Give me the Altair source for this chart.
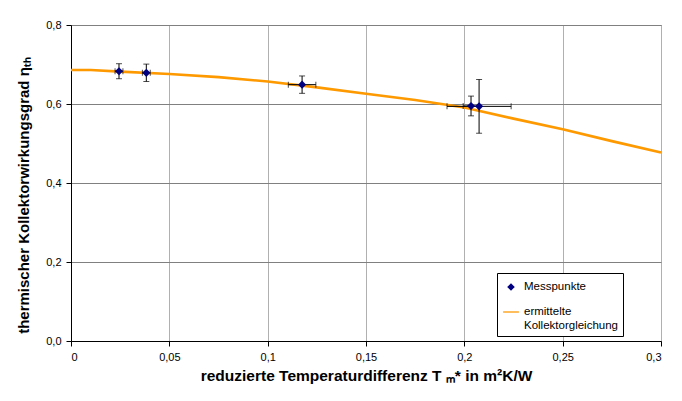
import altair as alt
import pandas as pd

series_names = ["Messpunkte", "ermittelte Kollektorgleichung"]
series_colors = ["#000080", "#FF9900"]

mess_x = [0.0244, 0.0383, 0.1175, 0.2034, 0.2075]
mess_y = [0.683, 0.679, 0.649, 0.595, 0.594]
mess_xerr = [0.002, 0.002, 0.007, 0.004, 0.0163]
mess_yerr = [0.019, 0.022, 0.022, 0.025, 0.068]

curve_x = [0, 0.01, 0.025, 0.05, 0.075, 0.1, 0.125, 0.15, 0.175, 0.2, 0.225, 0.25, 0.275, 0.3]
curve_y = [0.686, 0.686, 0.682, 0.676, 0.668, 0.657, 0.642, 0.626, 0.610, 0.591, 0.563, 0.536, 0.506, 0.477]

x_ticks = [0, 0.05, 0.1, 0.15, 0.2, 0.25, 0.3]
y_ticks = [0, 0.2, 0.4, 0.6, 0.8]

x_title = "reduzierte Temperaturdifferenz T \u2098* in m\u00b2K/W"
y_title = "thermischer Kollektorwirkungsgrad \u03b7\u209c\u2095"

FONT = "Liberation Sans"

pts = pd.DataFrame({
    "x": mess_x,
    "y": mess_y,
    "xlo": [a - b for a, b in zip(mess_x, mess_xerr)],
    "xhi": [a + b for a, b in zip(mess_x, mess_xerr)],
    "ylo": [a - b for a, b in zip(mess_y, mess_yerr)],
    "yhi": [a + b for a, b in zip(mess_y, mess_yerr)],
    "series": [series_names[0]] * len(mess_x),
})
ycaps = pd.DataFrame({
    "x": mess_x + mess_x,
    "y": list(pts["ylo"]) + list(pts["yhi"]),
})
xcaps = pd.DataFrame({
    "x": list(pts["xlo"]) + list(pts["xhi"]),
    "y": mess_y + mess_y,
})
curve = pd.DataFrame({"x": curve_x, "y": curve_y})

xscale = alt.Scale(domain=[0, 0.3], nice=False, zero=False)
yscale = alt.Scale(domain=[0, 0.8], nice=False, zero=False)

x_axis = alt.Axis(
    values=x_ticks,
    labelExpr="replace(format(datum.value, '~g'), '.', ',')",
    title=x_title,
    grid=True,
    gridColor="#b0b0b0",
    domainColor="#000000",
    tickColor="#000000",
    tickSize=5,
    labelPadding=5,
    labelFont=FONT,
    labelFontSize=11,
    labelColor="#000000",
    titleFont=FONT,
    titleFontSize=15.5,
    titleFontWeight="bold",
    titleColor="#000000",
    titleX=295,
    titleY=39,
    titleAlign="center",
    titleBaseline="alphabetic",
)
y_axis = alt.Axis(
    values=y_ticks,
    labelExpr="replace(format(datum.value, '.1f'), '.', ',')",
    title=y_title,
    grid=True,
    gridColor="#808080",
    domainColor="#000000",
    tickColor="#000000",
    tickSize=5,
    labelPadding=5,
    labelFont=FONT,
    labelFontSize=11,
    labelColor="#000000",
    titleFont=FONT,
    titleFontSize=15,
    titleFontWeight="bold",
    titleColor="#000000",
    titleAngle=270,
    titleX=-43,
    titleY=170,
    titleAlign="center",
    titleBaseline="alphabetic",
)

line = alt.Chart(curve).mark_line(color=series_colors[1], strokeWidth=2.6).encode(
    x=alt.X("x:Q", scale=xscale, axis=x_axis),
    y=alt.Y("y:Q", scale=yscale, axis=y_axis),
)

yerr = alt.Chart(pts).mark_rule(color="#000000", strokeWidth=1).encode(
    x="x:Q", y="ylo:Q", y2="yhi:Q"
)
xerr = alt.Chart(pts).mark_rule(color="#000000", strokeWidth=1).encode(
    x="xlo:Q", x2="xhi:Q", y="y:Q"
)
ycap = alt.Chart(ycaps).mark_tick(color="#000000", orient="horizontal", size=6, thickness=1).encode(
    x="x:Q", y="y:Q"
)
xcap = alt.Chart(xcaps).mark_tick(color="#000000", orient="vertical", size=6, thickness=1).encode(
    x="x:Q", y="y:Q"
)

diamond = "M0,-0.48L0.48,0L0,0.48L-0.48,0Z"
hline = "M-1,-0.08H1V0.08H-1Z"

legend = alt.Legend(
    title=None,
    orient="none",
    legendX=426,
    legendY=248,
    padding=5,
    fillColor="#ffffff",
    strokeColor="#000000",
    cornerRadius=0,
    labelFont=FONT,
    labelFontSize=11.5,
    labelColor="#000000",
    labelLimit=300,
    rowPadding=10,
    labelOffset=4,
    symbolSize=250,
    labelExpr="datum.label == '" + series_names[1] + "' ? ['ermittelte', 'Kollektorgleichung'] : datum.label",
)

points = alt.Chart(pts).mark_point(filled=True, size=289, opacity=1).encode(
    x="x:Q",
    y="y:Q",
    color=alt.Color("series:N", scale=alt.Scale(domain=series_names, range=series_colors), legend=legend),
    shape=alt.Shape("series:N", scale=alt.Scale(domain=series_names, range=[diamond, hline]), legend=legend),
)

chart = alt.layer(line, yerr, xerr, ycap, xcap, points).properties(
    width=590,
    height=316,
    autosize=alt.AutoSizeParams(type="none"),
    padding={"left": 63, "top": 17, "right": 13, "bottom": 50},
    background="#ffffff",
).configure_view(stroke="#808080", strokeWidth=1)

chart.save("out.html", embed_options={"renderer": "svg", "actions": False})
